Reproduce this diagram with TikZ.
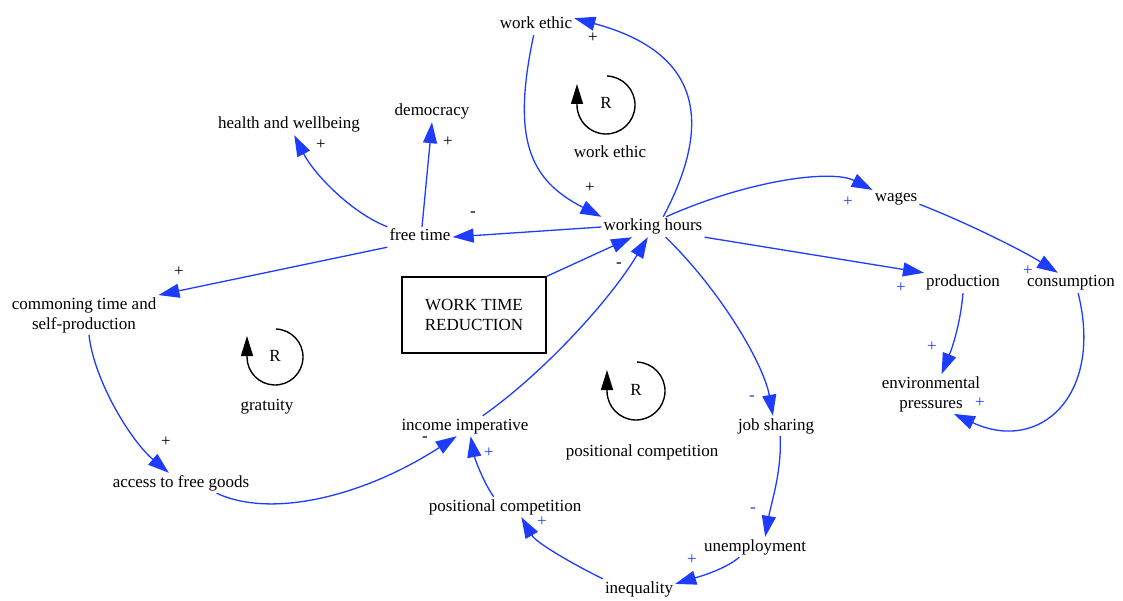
\documentclass[tikz,border=0pt]{standalone}
\usepackage{fontspec}
\setmainfont{Liberation Serif}
\usetikzlibrary{arrows.meta}
\definecolor{cldblue}{RGB}{30,60,255}
\begin{document}
\begin{tikzpicture}[x=1pt,y=1pt,
 var/.style={font=\fontsize{17}{20}\selectfont, inner sep=2pt, text height=12pt, text depth=4pt},
 var2/.style={font=\fontsize{17}{20}\selectfont, inner sep=2pt, align=center},
 link/.style={draw=cldblue, line width=1.3pt, -{Triangle[length=21pt,width=14pt]}},
 psign/.style={font=\fontsize{17}{20}\selectfont, inner sep=0pt},
 bsign/.style={psign, text=cldblue},
 loopc/.style={line width=1.4pt, -{Triangle[length=20pt,width=12pt]}},
]
\fill[white] (0,0) rectangle (1123,-601);
\useasboundingbox (0,0) rectangle (1123,-601);

% variables
\node[var] (we) at (536,-25) {work ethic};
\node[var] (wh) at (653,-227) {working hours};
\node[var] (ft) at (420,-237) {free time};
\node[var] (dem) at (432,-112) {democracy};
\node[var] (hw) at (289,-125) {health and wellbeing};
\node[var2] (ct) at (84,-315) {commoning time and\\self-production};
\node[var2, draw, line width=1.2pt, minimum width=144pt, minimum height=76pt] (wtr) at (474,-315) {WORK TIME\\REDUCTION};
\node[var] (ag) at (181,-483) {access to free goods};
\node[var] (ii) at (465,-426) {income imperative};
\node[var] (pc) at (505,-507) {positional competition};
\node[var] (ineq) at (639,-589) {inequality};
\node[var] (un) at (755,-547) {unemployment};
\node[var] (js) at (776,-426) {job sharing};
\node[var] (wg) at (896,-198) {wages};
\node[var] (pr) at (963,-283) {production};
\node[var] (co) at (1071,-283) {consumption};
\node[var2] (ep) at (931,-394) {environmental\\pressures};

% loop markers
\node[var] (r1) at (606,-105) {R};
\node[var] (r2) at (275,-357) {R};
\node[var] (r3) at (636,-391) {R};
\node[var] (l1) at (610,-154) {work ethic};
\node[var] (l2) at (267,-406) {gratuity};
\node[var] (l3) at (642,-452) {positional competition};
\draw[loopc] ([shift={(88:29)}]r1.center) arc[start angle=88, end angle=-180, radius=29] -- ++(0,21);
\draw[loopc] ([shift={(88:28)}]r2.center) arc[start angle=88, end angle=-180, radius=28] -- ++(0,21);
\draw[loopc] ([shift={(88:29)}]r3.center) arc[start angle=88, end angle=-180, radius=29] -- ++(0,21);

% links
\draw[link] (we.257) .. controls +(258:105) and +(153:82) .. (wh.north west);
\draw[link] (wh.45) .. controls +(62:130) and +(-15:110) .. (we.10);
\draw[link] ([xshift=2pt]ft.north) -- (dem.south);
\draw[link] (ft.north west) .. controls +(159:38) and +(297:44) .. (hw.297);
\draw[link] (ft.south west) -- (ct.north east);
\draw[link] ([xshift=5pt]ct.south) .. controls +(-84:45) and +(140:50) .. (ag.140);
\draw[link] (ag.-16) .. controls +(-25:62) and +(213:108) .. (ii.231);
\draw[link] (pc.138) .. controls +(125:20) and +(-80:20) .. (ii.299);
\draw[link] (ineq.north west) .. controls +(154:30) and +(300:30) .. (pc.328);
\draw[link] (un.213) .. controls +(221:20) and +(17:20) .. (ineq.8);
\draw[link] (js.292) .. controls +(-87:35) and +(80:35) .. (un.45);
\draw[link] (wh.321) .. controls +(-44:75) and +(100:53) .. (js.107);
\draw[link] (ii.30) .. controls +(35:71) and +(239:76) .. (wh.243);
\draw[link] (wtr.north east) -- (wh.206);
\draw[link] (wh.west) -- (ft.east);
\draw[link] (wh.38) .. controls +(24:90) and +(153:46) .. (wg.161);
\draw[link] (wg.345) .. controls +(-21:45) and +(148:45) .. (co.142);
\draw[link] (wh.south east) -- (pr.north west);
\draw[link] (pr.south) .. controls +(-95:30) and +(68:30) .. (ep.62);
\draw[link] (co.305) .. controls +(-76:105) and +(-25:95) .. (ep.319);

% polarities
\node[psign] (s1) at (593,-38) {+};
\node[psign] (s2) at (590,-188) {+};
\node[psign] (s3) at (473,-214) {-};
\node[psign] (s4) at (448,-142) {+};
\node[psign] (s5) at (321,-145) {+};
\node[psign] (s6) at (179,-272) {+};
\node[psign] (s7) at (619,-265) {-};
\node[psign] (s8) at (166,-442) {+};
\node[psign] (s9) at (425,-439) {-};
\node[bsign] (s10) at (489,-453) {+};
\node[bsign] (s11) at (542,-522) {+};
\node[bsign] (s12) at (692,-560) {+};
\node[bsign] (s13) at (753,-510) {-};
\node[bsign] (s14) at (752,-398) {-};
\node[bsign] (s15) at (848,-202) {+};
\node[bsign] (s16) at (1028,-271) {+};
\node[bsign] (s17) at (901,-288) {+};
\node[bsign] (s18) at (932,-347) {+};
\node[bsign] (s19) at (980,-403) {+};
\end{tikzpicture}
\end{document}
